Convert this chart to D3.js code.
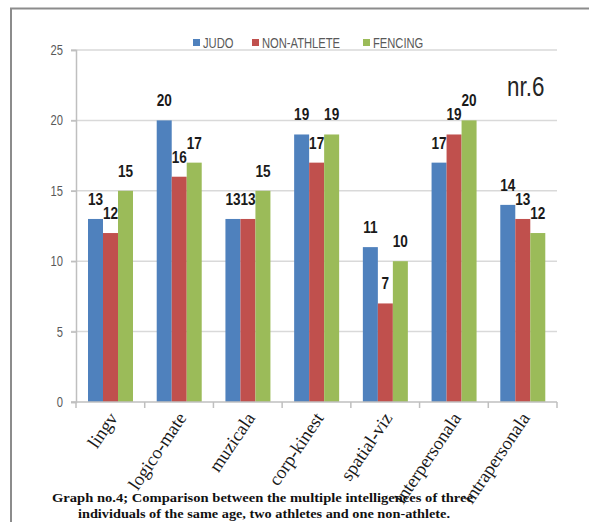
<!DOCTYPE html>
<html>
<head>
<meta charset="utf-8">
<script src="https://cdn.jsdelivr.net/npm/d3@7/dist/d3.min.js"></script>
<style>
  html, body { margin: 0; padding: 0; background: #fff; }
  svg { display: block; }
</style>
</head>
<body>
<svg id="chart" width="589" height="522"></svg>
<script>
// Multiple intelligences scores for three individuals of the same age
const categories = ["lingv", "logico-mate", "muzicala", "corp-kinest", "spatial-viz", "interpersonala", "intrapersonala"];
const seriesNames = ["JUDO", "NON-ATHLETE", "FENCING"];
const judo       = [13, 20, 13, 19, 11, 17, 14];
const nonAthlete = [12, 16, 13, 17,  7, 19, 13];
const fencing    = [15, 17, 15, 19, 10, 20, 12];
const yTicks = [0, 5, 10, 15, 20, 25];
const captionLines = [
  "Graph no.4; Comparison between the multiple intelligences of three",
  "individuals  of the same age, two athletes and one non-athlete."
];

const seriesValues = [judo, nonAthlete, fencing];
const colors = ["#4F81BD", "#C0504D", "#9BBB59"];
const sans = "'Liberation Sans', Arial, sans-serif";
const serif = "'Liberation Serif', 'Times New Roman', serif";
const squeeze = 0.8; // condensed look for the sans-serif chart text

const svg = d3.select("#chart");

// outer frame (top and left edges)
svg.append("line").attr("x1", 10).attr("x2", 589).attr("y1", 8.5).attr("y2", 8.5)
  .attr("stroke", "#8c8c8c").attr("stroke-width", 2);
svg.append("line").attr("x1", 11).attr("x2", 11).attr("y1", 8).attr("y2", 522)
  .attr("stroke", "#8c8c8c").attr("stroke-width", 2);

const plot = { left: 76, right: 557, top: 50, bottom: 402 };

const y = d3.scaleLinear().domain([0, 25]).range([plot.bottom, plot.top]);
const x0 = d3.scaleBand().domain(categories).range([plot.left, plot.right]).padding(0);
const x1 = d3.scaleBand().domain(seriesNames).range([12, 57]).padding(0);

// horizontal gridlines
svg.append("g").selectAll("line").data(yTicks.filter(t => t > 0)).join("line")
  .attr("x1", plot.left - 5).attr("x2", plot.right)
  .attr("y1", d => y(d)).attr("y2", d => y(d))
  .attr("stroke", "#d9d9d9").attr("stroke-width", 1.5);

// y axis
const yAxis = svg.append("g").attr("transform", `translate(${plot.left},0)`)
  .call(d3.axisLeft(y).tickValues(yTicks).tickSize(5).tickPadding(8));
yAxis.select(".domain").attr("stroke", "#bfbfbf").attr("stroke-width", 1.5);
yAxis.selectAll(".tick line").attr("stroke", "#bfbfbf").attr("stroke-width", 1.5);
yAxis.selectAll(".tick text").attr("fill", "#595959")
  .attr("transform", `translate(-13,0) scale(${squeeze},1)`).attr("x", 0)
  .style("font-family", sans).style("font-size", "14px");

// bars
const groups = svg.append("g").selectAll("g").data(categories).join("g")
  .attr("transform", d => `translate(${x0(d)},0)`);

const cells = (c, i) => seriesNames.map((s, j) => ({ s, j, v: seriesValues[j][i] }));

groups.selectAll("rect").data(cells).join("rect")
  .attr("x", d => x1(d.s))
  .attr("width", x1.bandwidth())
  .attr("y", d => y(d.v))
  .attr("height", d => y(0) - y(d.v))
  .attr("fill", d => colors[d.j]);

// value labels
groups.selectAll("text.val").data(cells).join("text").attr("class", "val")
  .attr("transform", d => `translate(${x1(d.s) + x1.bandwidth() / 2},${y(d.v) - 14}) scale(${squeeze},1)`)
  .attr("text-anchor", "middle")
  .attr("fill", "#1a1a1a")
  .style("font-family", sans).style("font-weight", "bold").style("font-size", "17px")
  .text(d => d.v);

// x axis
const xAxisG = svg.append("g");
xAxisG.append("line").attr("x1", plot.left - 5).attr("x2", plot.right)
  .attr("y1", plot.bottom).attr("y2", plot.bottom)
  .attr("stroke", "#bfbfbf").attr("stroke-width", 1.5);
const boundaries = categories.map(c => x0(c)).concat([plot.right]);
xAxisG.selectAll("line.tk").data(boundaries).join("line").attr("class", "tk")
  .attr("x1", d => d).attr("x2", d => d)
  .attr("y1", plot.bottom).attr("y2", plot.bottom + 6)
  .attr("stroke", "#bfbfbf").attr("stroke-width", 1.5);

// caption
svg.append("g").selectAll("text").data(captionLines).join("text")
  .attr("x", (d, i) => i === 0 ? 52 : 78)
  .attr("y", (d, i) => i === 0 ? 502 : 518)
  .attr("textLength", (d, i) => i === 0 ? 421 : 372)
  .attr("lengthAdjust", "spacingAndGlyphs")
  .attr("fill", "#111")
  .style("font-family", serif).style("font-weight", "bold").style("font-size", "13.5px")
  .text(d => d);

// rotated category labels
xAxisG.selectAll("text").data(categories).join("text")
  .attr("transform", d => `translate(${x0(d) + x0.bandwidth() / 2 + 8},${plot.bottom + 16}) rotate(-56)`)
  .attr("text-anchor", "end")
  .attr("fill", "#1a1a1a")
  .style("font-family", serif).style("font-size", "18.5px")
  .text(d => d);

// legend
const legendX = [193, 252, 363];
const legend = svg.append("g").selectAll("g").data(seriesNames).join("g")
  .attr("transform", (d, i) => `translate(${legendX[i]},43)`);
legend.append("rect").attr("x", 0).attr("y", -4).attr("width", 7).attr("height", 7)
  .attr("fill", (d, i) => colors[i]);
legend.append("text")
  .attr("transform", `translate(10,5) scale(${squeeze},1)`)
  .attr("fill", "#595959")
  .style("font-family", sans).style("font-size", "14px")
  .text(d => d);

// panel tag
svg.append("text").attr("transform", `translate(507,96) scale(${squeeze},1)`)
  .attr("fill", "#262626")
  .style("font-family", sans).style("font-size", "28px")
  .text("nr.6");
</script>
</body>
</html>
